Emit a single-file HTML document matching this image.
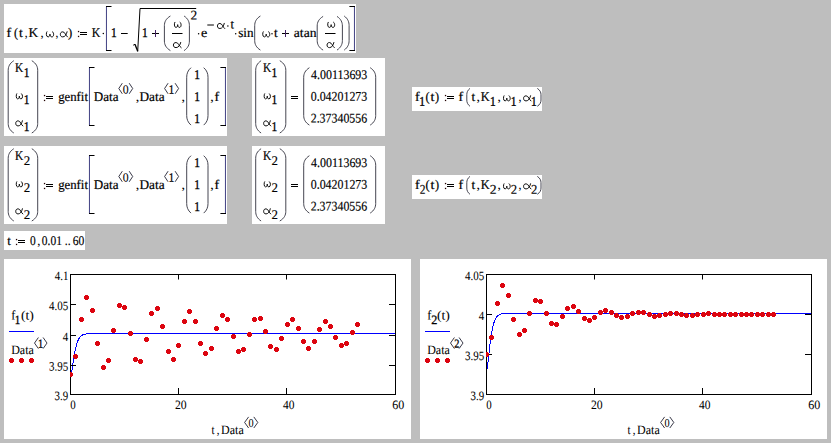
<!DOCTYPE html>
<html><head><meta charset="utf-8"><title>Mathcad</title>
<style>
html,body{margin:0;padding:0;background:#bebebe;}
body{width:831px;height:443px;overflow:hidden;}
svg{display:block;}
text{font-family:"Liberation Serif",serif;fill:#000;white-space:pre;stroke:#000;stroke-width:0.2px;}
text.c{stroke-width:0.05px;}
text.cd{stroke-width:0.3px;}
text.d{stroke-width:0.34px;}
text.d2{stroke-width:0.16px;}
</style></head><body>
<svg width="831" height="443" viewBox="0 0 831 443">
<defs><path id="rd" d="M1,0h3v1h1v3h-1v1h-3v-1h-1v-3h1z" fill="#dc0510" shape-rendering="crispEdges"/></defs>
<rect x="0" y="0" width="831" height="443" fill="#bebebe"/>
<rect x="4" y="4" width="352" height="49" fill="#fff"/>
<text transform="matrix(1.060 0.002 0 1 6.43 37.00)" font-size="13.33">f</text>
<text transform="matrix(0.901 0.002 0 1 13.88 37.00)" font-size="13.33">(</text>
<text transform="matrix(1.027 0.002 0 1 19.08 37.00)" font-size="13.33">t</text>
<text transform="matrix(0.860 0.002 0 1 24.70 37.00)" font-size="13.33" style="stroke-width:0.05px">,</text>
<text transform="matrix(1.009 0.002 0 1 28.42 37.00)" font-size="13.33">K</text>
<text transform="matrix(0.950 0.002 0 1 40.42 37.00)" font-size="13.33" style="stroke-width:0.05px">,</text>
<path d="M1.1,-5.7 C0.4,-5.0 0.3,-0.55 2.2,-0.55 C3.4,-0.55 3.9,-1.6 4,-3.3 C4.1,-1.6 4.6,-0.55 5.8,-0.55 C7.7,-0.55 8.0,-4.6 6.4,-5.7" transform="translate(45.60,37.45) scale(1.087,1.000)" fill="none" stroke="#000" stroke-width="0.95" stroke-linecap="round" vector-effect="non-scaling-stroke"/>
<text transform="matrix(0.860 0.002 0 1 55.45 37.00)" font-size="13.33" style="stroke-width:0.05px">,</text>
<path d="M7.3,-5.7 C6.7,-3 5.2,-0.55 3,-0.55 C1.3,-0.55 0.55,-1.6 0.55,-3.1 C0.55,-4.6 1.4,-5.6 3,-5.6 C5.3,-5.6 5.9,-1.6 7.7,-0.45" transform="translate(59.80,37.45) scale(1.000,1.000)" fill="none" stroke="#000" stroke-width="0.95" stroke-linecap="round" vector-effect="non-scaling-stroke"/>
<text transform="matrix(0.960 0.002 0 1 68.09 37.00)" font-size="13.33">)</text>
<rect x="77.9" y="30.9" width="1.3" height="1.3" fill="#200"/>
<rect x="77.9" y="35.8" width="1.3" height="1.3" fill="#200"/>
<rect x="80" y="32" width="7" height="1" fill="#000"/>
<rect x="80" y="34" width="7" height="1" fill="#000"/>
<text transform="matrix(0.899 0.002 0 1 91.86 37.00)" font-size="13.33">K</text>
<circle cx="103.30" cy="33.50" r="0.75" fill="#000"/>
<path d="M106.45,6.5 V50.5" fill="none" stroke="#404082" stroke-width="1" />
<rect x="106" y="6" width="5.5" height="1" fill="#000"/><rect x="106" y="50" width="5.5" height="1" fill="#000"/>
<text transform="matrix(0.860 0.002 0 1 111.03 37.00)" font-size="13.33" class="d">1</text>
<path d="M121,33.5 H127.7" fill="none" stroke="#000" stroke-width="1" />
<path d="M133.2,45.2 L135,44.3" fill="none" stroke="#000" stroke-width="1" />
<path d="M135,44.3 L137.7,51.3" fill="none" stroke="#000" stroke-width="1.35" />
<path d="M137.7,51.5 L140,8.5 H196.2" fill="none" stroke="#000" stroke-width="1" />
<text transform="matrix(0.860 0.002 0 1 141.88 37.00)" font-size="13.33" class="d">1</text>
<rect x="152" y="33" width="7" height="1" fill="#000"/>
<rect x="155" y="30" width="1" height="7" fill="#426"/>
<path d="M170.40,16.00 C165.90,18.70 164.40,22.00 164.40,25.60 L164.40,41.00 C164.40,44.60 165.90,47.90 170.40,50.60" fill="none" stroke="#3c3c48" stroke-width="0.95" />
<path d="M1.1,-5.7 C0.4,-5.0 0.3,-0.55 2.2,-0.55 C3.4,-0.55 3.9,-1.6 4,-3.3 C4.1,-1.6 4.6,-0.55 5.8,-0.55 C7.7,-0.55 8.0,-4.6 6.4,-5.7" transform="translate(173.70,27.95) scale(1.000,1.000)" fill="none" stroke="#000" stroke-width="0.95" stroke-linecap="round" vector-effect="non-scaling-stroke"/>
<path d="M172,33.5 H182.5" fill="none" stroke="#000" stroke-width="1" />
<path d="M7.3,-5.7 C6.7,-3 5.2,-0.55 3,-0.55 C1.3,-0.55 0.55,-1.6 0.55,-3.1 C0.55,-4.6 1.4,-5.6 3,-5.6 C5.3,-5.6 5.9,-1.6 7.7,-0.45" transform="translate(172.80,48.15) scale(1.087,1.000)" fill="none" stroke="#000" stroke-width="0.95" stroke-linecap="round" vector-effect="non-scaling-stroke"/>
<path d="M184.10,16.00 C188.07,18.70 189.40,22.00 189.40,25.60 L189.40,41.00 C189.40,44.60 188.07,47.90 184.10,50.60" fill="none" stroke="#3c3c48" stroke-width="0.95" />
<text transform="matrix(1.008 0.002 0 1 190.52 19.50)" font-size="13.33" class="d2">2</text>
<circle cx="198.60" cy="33.70" r="0.75" fill="#000"/>
<text transform="matrix(1.060 0.002 0 1 200.93 37.00)" font-size="13.33">e</text>
<path d="M207.3,25 H213.9" fill="none" stroke="#000" stroke-width="1" />
<path d="M7.3,-5.7 C6.7,-3 5.2,-0.55 3,-0.55 C1.3,-0.55 0.55,-1.6 0.55,-3.1 C0.55,-4.6 1.4,-5.6 3,-5.6 C5.3,-5.6 5.9,-1.6 7.7,-0.45" transform="translate(216.90,29.05) scale(1.012,1.000)" fill="none" stroke="#000" stroke-width="0.95" stroke-linecap="round" vector-effect="non-scaling-stroke"/>
<circle cx="227.90" cy="26.00" r="0.75" fill="#000"/>
<text transform="matrix(0.941 0.002 0 1 230.39 28.60)" font-size="13.33">t</text>
<circle cx="235.70" cy="33.70" r="0.75" fill="#000"/>
<text transform="matrix(0.986 0.002 0 1 238.16 37.00)" font-size="13.33">sin</text>
<path d="M260.40,16.00 C256.12,18.70 254.70,22.00 254.70,25.60 L254.70,40.50 C254.70,44.10 256.12,47.40 260.40,50.10" fill="none" stroke="#3c3c48" stroke-width="0.95" />
<path d="M1.1,-5.7 C0.4,-5.0 0.3,-0.55 2.2,-0.55 C3.4,-0.55 3.9,-1.6 4,-3.3 C4.1,-1.6 4.6,-0.55 5.8,-0.55 C7.7,-0.55 8.0,-4.6 6.4,-5.7" transform="translate(262.00,37.45) scale(1.050,1.000)" fill="none" stroke="#000" stroke-width="0.95" stroke-linecap="round" vector-effect="non-scaling-stroke"/>
<circle cx="272.00" cy="33.70" r="0.75" fill="#000"/>
<text transform="matrix(0.998 0.002 0 1 273.98 37.00)" font-size="13.33">t</text>
<rect x="282" y="33" width="7" height="1" fill="#000"/>
<rect x="285" y="30" width="1" height="7" fill="#426"/>
<text transform="matrix(1.021 0.002 0 1 293.82 37.00)" font-size="13.33">atan</text>
<path d="M323.10,16.40 C318.67,19.10 317.20,22.40 317.20,26.00 L317.20,40.50 C317.20,44.10 318.67,47.40 323.10,50.10" fill="none" stroke="#3c3c48" stroke-width="0.95" />
<path d="M1.1,-5.7 C0.4,-5.0 0.3,-0.55 2.2,-0.55 C3.4,-0.55 3.9,-1.6 4,-3.3 C4.1,-1.6 4.6,-0.55 5.8,-0.55 C7.7,-0.55 8.0,-4.6 6.4,-5.7" transform="translate(327.00,27.95) scale(1.038,1.000)" fill="none" stroke="#000" stroke-width="0.95" stroke-linecap="round" vector-effect="non-scaling-stroke"/>
<path d="M325,33.5 H335.5" fill="none" stroke="#000" stroke-width="1" />
<path d="M7.3,-5.7 C6.7,-3 5.2,-0.55 3,-0.55 C1.3,-0.55 0.55,-1.6 0.55,-3.1 C0.55,-4.6 1.4,-5.6 3,-5.6 C5.3,-5.6 5.9,-1.6 7.7,-0.45" transform="translate(326.50,48.15) scale(1.013,1.000)" fill="none" stroke="#000" stroke-width="0.95" stroke-linecap="round" vector-effect="non-scaling-stroke"/>
<path d="M337.00,16.40 C341.05,19.10 342.40,22.40 342.40,26.00 L342.40,40.50 C342.40,44.10 341.05,47.40 337.00,50.10" fill="none" stroke="#3c3c48" stroke-width="0.95" />
<path d="M344.20,16.00 C347.88,18.70 349.10,22.00 349.10,25.60 L349.10,40.50 C349.10,44.10 347.88,47.40 344.20,50.10" fill="none" stroke="#3c3c48" stroke-width="0.95" />
<path d="M354.45,6.5 V50.5" fill="none" stroke="#404082" stroke-width="1" />
<rect x="349.4" y="6" width="5.6" height="1" fill="#000"/><rect x="349.4" y="50" width="5.6" height="1" fill="#000"/>
<rect x="4" y="58" width="223" height="78" fill="#fff"/>
<path d="M13.80,60.70 C9.60,63.40 8.20,66.70 8.20,70.30 L8.20,123.40 C8.20,127.00 9.60,130.30 13.80,133.00" fill="none" stroke="#3c3c48" stroke-width="0.95" />
<text transform="matrix(0.860 0.002 0 1 15.06 72.00)" font-size="13.33">K</text>
<text transform="matrix(0.860 0.002 0 1 23.68 77.00)" font-size="13.33" class="d">1</text>
<path d="M1.1,-5.7 C0.4,-5.0 0.3,-0.55 2.2,-0.55 C3.4,-0.55 3.9,-1.6 4,-3.3 C4.1,-1.6 4.6,-0.55 5.8,-0.55 C7.7,-0.55 8.0,-4.6 6.4,-5.7" transform="translate(15.60,99.45) scale(0.938,1.000)" fill="none" stroke="#000" stroke-width="0.95" stroke-linecap="round" vector-effect="non-scaling-stroke"/>
<text transform="matrix(0.860 0.002 0 1 23.68 104.00)" font-size="13.33" class="d">1</text>
<path d="M7.3,-5.7 C6.7,-3 5.2,-0.55 3,-0.55 C1.3,-0.55 0.55,-1.6 0.55,-3.1 C0.55,-4.6 1.4,-5.6 3,-5.6 C5.3,-5.6 5.9,-1.6 7.7,-0.45" transform="translate(15.20,126.45) scale(0.988,1.000)" fill="none" stroke="#000" stroke-width="0.95" stroke-linecap="round" vector-effect="non-scaling-stroke"/>
<text transform="matrix(0.860 0.002 0 1 23.68 131.00)" font-size="13.33" class="d">1</text>
<path d="M31.80,60.70 C36.23,63.40 37.70,66.70 37.70,70.30 L37.70,123.40 C37.70,127.00 36.23,130.30 31.80,133.00" fill="none" stroke="#3c3c48" stroke-width="0.95" />
<rect x="43.9" y="94.9" width="1.3" height="1.3" fill="#200"/>
<rect x="43.9" y="99.8" width="1.3" height="1.3" fill="#200"/>
<rect x="46" y="96" width="7" height="1" fill="#000"/>
<rect x="46" y="98" width="7" height="1" fill="#000"/>
<text transform="matrix(0.959 0.002 0 1 58.16 101.00)" font-size="13.33">genfit</text>
<path d="M89.45,67.5 V125.5" fill="none" stroke="#404082" stroke-width="1" />
<rect x="89" y="67" width="5.5" height="1" fill="#000"/><rect x="89" y="125" width="5.5" height="1" fill="#000"/>
<text transform="matrix(0.983 0.002 0 1 93.73 101.00)" font-size="13.33">Data</text>
<path d="M122.30,83.20 L118.80,88.50 L122.30,93.80" fill="none" stroke="#223" stroke-width="0.9" />
<path d="M129.20,83.20 L132.70,88.50 L129.20,93.80" fill="none" stroke="#223" stroke-width="0.9" />
<text transform="matrix(0.951 0.002 0 1 122.80 93.40)" font-size="12.4" class="c">0</text>
<text transform="matrix(1.060 0.002 0 1 135.85 101.00)" font-size="13.33" style="stroke-width:0.05px">,</text>
<text transform="matrix(0.999 0.002 0 1 139.43 101.00)" font-size="13.33">Data</text>
<path d="M168.10,83.20 L164.60,88.50 L168.10,93.80" fill="none" stroke="#223" stroke-width="0.9" />
<path d="M175.10,83.20 L178.60,88.50 L175.10,93.80" fill="none" stroke="#223" stroke-width="0.9" />
<text transform="matrix(0.860 0.002 0 1 168.79 93.40)" font-size="12.4" class="cd">1</text>
<text transform="matrix(1.060 0.002 0 1 181.50 101.00)" font-size="13.33" style="stroke-width:0.05px">,</text>
<path d="M191.00,67.70 C187.78,70.40 186.70,73.70 186.70,77.30 L186.70,115.50 C186.70,119.10 187.78,122.40 191.00,125.10" fill="none" stroke="#3c3c48" stroke-width="0.95" />
<text transform="matrix(0.860 0.002 0 1 194.18 79.00)" font-size="13.33" class="d">1</text>
<text transform="matrix(0.860 0.002 0 1 194.18 101.00)" font-size="13.33" class="d">1</text>
<text transform="matrix(0.860 0.002 0 1 194.18 123.00)" font-size="13.33" class="d">1</text>
<path d="M203.70,67.70 C206.93,70.40 208.00,73.70 208.00,77.30 L208.00,115.50 C208.00,119.10 206.93,122.40 203.70,125.10" fill="none" stroke="#3c3c48" stroke-width="0.95" />
<text transform="matrix(1.060 0.002 0 1 210.30 101.00)" font-size="13.33" style="stroke-width:0.05px">,</text>
<text transform="matrix(1.060 0.002 0 1 214.43 101.00)" font-size="13.33">f</text>
<path d="M225.45,67.5 V125.5" fill="none" stroke="#404082" stroke-width="1" />
<rect x="220.4" y="67" width="5.6" height="1" fill="#000"/><rect x="220.4" y="125" width="5.6" height="1" fill="#000"/>
<rect x="252" y="58" width="133" height="78" fill="#fff"/>
<path d="M261.10,60.70 C257.05,63.40 255.70,66.70 255.70,70.30 L255.70,123.40 C255.70,127.00 257.05,130.30 261.10,133.00" fill="none" stroke="#3c3c48" stroke-width="0.95" />
<text transform="matrix(0.860 0.002 0 1 262.96 72.00)" font-size="13.33">K</text>
<text transform="matrix(0.860 0.002 0 1 271.58 77.00)" font-size="13.33" class="d">1</text>
<path d="M1.1,-5.7 C0.4,-5.0 0.3,-0.55 2.2,-0.55 C3.4,-0.55 3.9,-1.6 4,-3.3 C4.1,-1.6 4.6,-0.55 5.8,-0.55 C7.7,-0.55 8.0,-4.6 6.4,-5.7" transform="translate(263.50,99.45) scale(0.938,1.000)" fill="none" stroke="#000" stroke-width="0.95" stroke-linecap="round" vector-effect="non-scaling-stroke"/>
<text transform="matrix(0.860 0.002 0 1 271.58 104.00)" font-size="13.33" class="d">1</text>
<path d="M7.3,-5.7 C6.7,-3 5.2,-0.55 3,-0.55 C1.3,-0.55 0.55,-1.6 0.55,-3.1 C0.55,-4.6 1.4,-5.6 3,-5.6 C5.3,-5.6 5.9,-1.6 7.7,-0.45" transform="translate(263.10,126.45) scale(0.987,1.000)" fill="none" stroke="#000" stroke-width="0.95" stroke-linecap="round" vector-effect="non-scaling-stroke"/>
<text transform="matrix(0.860 0.002 0 1 271.58 131.00)" font-size="13.33" class="d">1</text>
<path d="M279.80,60.70 C284.30,63.40 285.80,66.70 285.80,70.30 L285.80,123.40 C285.80,127.00 284.30,130.30 279.80,133.00" fill="none" stroke="#3c3c48" stroke-width="0.95" />
<rect x="291" y="96" width="7" height="1" fill="#000"/>
<rect x="291" y="98" width="7" height="1" fill="#000"/>
<path d="M309.40,67.70 C305.12,70.40 303.70,73.70 303.70,77.30 L303.70,115.50 C303.70,119.10 305.12,122.40 309.40,125.10" fill="none" stroke="#3c3c48" stroke-width="0.95" />
<text transform="matrix(0.898 0.002 0 1 310.97 79.00)" font-size="13.33" class="d2">4.00113693</text>
<text transform="matrix(0.894 0.002 0 1 310.75 100.70)" font-size="13.33" class="d2">0.04201273</text>
<text transform="matrix(0.893 0.002 0 1 310.69 122.40)" font-size="13.33" class="d2">2.37340556</text>
<path d="M370.20,67.70 C374.33,70.40 375.70,73.70 375.70,77.30 L375.70,115.50 C375.70,119.10 374.33,122.40 370.20,125.10" fill="none" stroke="#3c3c48" stroke-width="0.95" />
<rect x="412" y="87" width="130" height="24" fill="#fff"/>
<text transform="matrix(1.060 0.002 0 1 414.88 101.00)" font-size="13.33">f</text>
<text transform="matrix(0.860 0.002 0 1 419.28 105.80)" font-size="13.33" class="d">1</text>
<text transform="matrix(0.930 0.002 0 1 425.57 101.00)" font-size="13.33">(</text>
<text transform="matrix(1.060 0.002 0 1 430.46 101.00)" font-size="13.33">t</text>
<text transform="matrix(0.930 0.002 0 1 435.10 101.00)" font-size="13.33">)</text>
<rect x="444.9" y="94.9" width="1.3" height="1.3" fill="#200"/>
<rect x="444.9" y="99.8" width="1.3" height="1.3" fill="#200"/>
<rect x="447" y="96" width="7" height="1" fill="#000"/>
<rect x="447" y="98" width="7" height="1" fill="#000"/>
<text transform="matrix(1.060 0.002 0 1 458.58 101.00)" font-size="13.33">f</text>
<path d="M470.00,88.40 C467.60,90.17 466.80,92.34 466.80,94.70 L466.80,100.00 C466.80,102.36 467.60,104.53 470.00,106.30" fill="none" stroke="#3c3c48" stroke-width="0.95" />
<text transform="matrix(0.998 0.002 0 1 471.58 101.00)" font-size="13.33">t</text>
<text transform="matrix(1.050 0.002 0 1 476.47 101.00)" font-size="13.33" style="stroke-width:0.05px">,</text>
<text transform="matrix(0.932 0.002 0 1 480.75 101.00)" font-size="13.33">K</text>
<text transform="matrix(0.860 0.002 0 1 489.98 105.80)" font-size="13.33" class="d">1</text>
<text transform="matrix(1.000 0.002 0 1 497.49 101.00)" font-size="13.33" style="stroke-width:0.05px">,</text>
<path d="M1.1,-5.7 C0.4,-5.0 0.3,-0.55 2.2,-0.55 C3.4,-0.55 3.9,-1.6 4,-3.3 C4.1,-1.6 4.6,-0.55 5.8,-0.55 C7.7,-0.55 8.0,-4.6 6.4,-5.7" transform="translate(502.80,101.45) scale(1.000,1.000)" fill="none" stroke="#000" stroke-width="0.95" stroke-linecap="round" vector-effect="non-scaling-stroke"/>
<text transform="matrix(0.860 0.002 0 1 510.78 105.80)" font-size="13.33" class="d">1</text>
<text transform="matrix(0.900 0.002 0 1 518.44 101.00)" font-size="13.33" style="stroke-width:0.05px">,</text>
<path d="M7.3,-5.7 C6.7,-3 5.2,-0.55 3,-0.55 C1.3,-0.55 0.55,-1.6 0.55,-3.1 C0.55,-4.6 1.4,-5.6 3,-5.6 C5.3,-5.6 5.9,-1.6 7.7,-0.45" transform="translate(523.00,101.45) scale(1.037,1.000)" fill="none" stroke="#000" stroke-width="0.95" stroke-linecap="round" vector-effect="non-scaling-stroke"/>
<text transform="matrix(0.860 0.002 0 1 530.98 105.80)" font-size="13.33" class="d">1</text>
<path d="M537.30,88.40 C540.08,90.17 541.00,92.34 541.00,94.70 L541.00,100.00 C541.00,102.36 540.08,104.53 537.30,106.30" fill="none" stroke="#3c3c48" stroke-width="0.95" />
<rect x="4" y="146" width="223" height="78" fill="#fff"/>
<path d="M13.80,148.70 C9.60,151.40 8.20,154.70 8.20,158.30 L8.20,211.40 C8.20,215.00 9.60,218.30 13.80,221.00" fill="none" stroke="#3c3c48" stroke-width="0.95" />
<text transform="matrix(0.860 0.002 0 1 15.06 160.00)" font-size="13.33">K</text>
<text transform="matrix(0.970 0.002 0 1 23.64 165.00)" font-size="13.33" class="d2">2</text>
<path d="M1.1,-5.7 C0.4,-5.0 0.3,-0.55 2.2,-0.55 C3.4,-0.55 3.9,-1.6 4,-3.3 C4.1,-1.6 4.6,-0.55 5.8,-0.55 C7.7,-0.55 8.0,-4.6 6.4,-5.7" transform="translate(15.60,187.45) scale(0.938,1.000)" fill="none" stroke="#000" stroke-width="0.95" stroke-linecap="round" vector-effect="non-scaling-stroke"/>
<text transform="matrix(0.970 0.002 0 1 23.64 192.00)" font-size="13.33" class="d2">2</text>
<path d="M7.3,-5.7 C6.7,-3 5.2,-0.55 3,-0.55 C1.3,-0.55 0.55,-1.6 0.55,-3.1 C0.55,-4.6 1.4,-5.6 3,-5.6 C5.3,-5.6 5.9,-1.6 7.7,-0.45" transform="translate(15.20,214.45) scale(0.988,1.000)" fill="none" stroke="#000" stroke-width="0.95" stroke-linecap="round" vector-effect="non-scaling-stroke"/>
<text transform="matrix(0.970 0.002 0 1 23.64 219.00)" font-size="13.33" class="d2">2</text>
<path d="M31.80,148.70 C36.23,151.40 37.70,154.70 37.70,158.30 L37.70,211.40 C37.70,215.00 36.23,218.30 31.80,221.00" fill="none" stroke="#3c3c48" stroke-width="0.95" />
<rect x="43.9" y="182.9" width="1.3" height="1.3" fill="#200"/>
<rect x="43.9" y="187.8" width="1.3" height="1.3" fill="#200"/>
<rect x="46" y="184" width="7" height="1" fill="#000"/>
<rect x="46" y="186" width="7" height="1" fill="#000"/>
<text transform="matrix(0.959 0.002 0 1 58.16 189.00)" font-size="13.33">genfit</text>
<path d="M89.45,155.5 V213.5" fill="none" stroke="#404082" stroke-width="1" />
<rect x="89" y="155" width="5.5" height="1" fill="#000"/><rect x="89" y="213" width="5.5" height="1" fill="#000"/>
<text transform="matrix(0.983 0.002 0 1 93.73 189.00)" font-size="13.33">Data</text>
<path d="M122.30,171.20 L118.80,176.50 L122.30,181.80" fill="none" stroke="#223" stroke-width="0.9" />
<path d="M129.20,171.20 L132.70,176.50 L129.20,181.80" fill="none" stroke="#223" stroke-width="0.9" />
<text transform="matrix(0.951 0.002 0 1 122.80 181.40)" font-size="12.4" class="c">0</text>
<text transform="matrix(1.060 0.002 0 1 135.85 189.00)" font-size="13.33" style="stroke-width:0.05px">,</text>
<text transform="matrix(0.999 0.002 0 1 139.43 189.00)" font-size="13.33">Data</text>
<path d="M168.10,171.20 L164.60,176.50 L168.10,181.80" fill="none" stroke="#223" stroke-width="0.9" />
<path d="M175.10,171.20 L178.60,176.50 L175.10,181.80" fill="none" stroke="#223" stroke-width="0.9" />
<text transform="matrix(0.860 0.002 0 1 168.79 181.40)" font-size="12.4" class="cd">1</text>
<text transform="matrix(1.060 0.002 0 1 181.50 189.00)" font-size="13.33" style="stroke-width:0.05px">,</text>
<path d="M191.00,155.70 C187.78,158.40 186.70,161.70 186.70,165.30 L186.70,203.50 C186.70,207.10 187.78,210.40 191.00,213.10" fill="none" stroke="#3c3c48" stroke-width="0.95" />
<text transform="matrix(0.860 0.002 0 1 194.18 167.00)" font-size="13.33" class="d">1</text>
<text transform="matrix(0.860 0.002 0 1 194.18 189.00)" font-size="13.33" class="d">1</text>
<text transform="matrix(0.860 0.002 0 1 194.18 211.00)" font-size="13.33" class="d">1</text>
<path d="M203.70,155.70 C206.93,158.40 208.00,161.70 208.00,165.30 L208.00,203.50 C208.00,207.10 206.93,210.40 203.70,213.10" fill="none" stroke="#3c3c48" stroke-width="0.95" />
<text transform="matrix(1.060 0.002 0 1 210.30 189.00)" font-size="13.33" style="stroke-width:0.05px">,</text>
<text transform="matrix(1.060 0.002 0 1 214.43 189.00)" font-size="13.33">f</text>
<path d="M225.45,155.5 V213.5" fill="none" stroke="#404082" stroke-width="1" />
<rect x="220.4" y="155" width="5.6" height="1" fill="#000"/><rect x="220.4" y="213" width="5.6" height="1" fill="#000"/>
<rect x="252" y="146" width="133" height="78" fill="#fff"/>
<path d="M261.10,148.70 C257.05,151.40 255.70,154.70 255.70,158.30 L255.70,211.40 C255.70,215.00 257.05,218.30 261.10,221.00" fill="none" stroke="#3c3c48" stroke-width="0.95" />
<text transform="matrix(0.860 0.002 0 1 262.96 160.00)" font-size="13.33">K</text>
<text transform="matrix(0.970 0.002 0 1 271.54 165.00)" font-size="13.33" class="d2">2</text>
<path d="M1.1,-5.7 C0.4,-5.0 0.3,-0.55 2.2,-0.55 C3.4,-0.55 3.9,-1.6 4,-3.3 C4.1,-1.6 4.6,-0.55 5.8,-0.55 C7.7,-0.55 8.0,-4.6 6.4,-5.7" transform="translate(263.50,187.45) scale(0.938,1.000)" fill="none" stroke="#000" stroke-width="0.95" stroke-linecap="round" vector-effect="non-scaling-stroke"/>
<text transform="matrix(0.970 0.002 0 1 271.54 192.00)" font-size="13.33" class="d2">2</text>
<path d="M7.3,-5.7 C6.7,-3 5.2,-0.55 3,-0.55 C1.3,-0.55 0.55,-1.6 0.55,-3.1 C0.55,-4.6 1.4,-5.6 3,-5.6 C5.3,-5.6 5.9,-1.6 7.7,-0.45" transform="translate(263.10,214.45) scale(0.987,1.000)" fill="none" stroke="#000" stroke-width="0.95" stroke-linecap="round" vector-effect="non-scaling-stroke"/>
<text transform="matrix(0.970 0.002 0 1 271.54 219.00)" font-size="13.33" class="d2">2</text>
<path d="M279.80,148.70 C284.30,151.40 285.80,154.70 285.80,158.30 L285.80,211.40 C285.80,215.00 284.30,218.30 279.80,221.00" fill="none" stroke="#3c3c48" stroke-width="0.95" />
<rect x="291" y="184" width="7" height="1" fill="#000"/>
<rect x="291" y="186" width="7" height="1" fill="#000"/>
<path d="M309.40,155.70 C305.12,158.40 303.70,161.70 303.70,165.30 L303.70,203.50 C303.70,207.10 305.12,210.40 309.40,213.10" fill="none" stroke="#3c3c48" stroke-width="0.95" />
<text transform="matrix(0.898 0.002 0 1 310.97 167.00)" font-size="13.33" class="d2">4.00113693</text>
<text transform="matrix(0.894 0.002 0 1 310.75 188.70)" font-size="13.33" class="d2">0.04201273</text>
<text transform="matrix(0.893 0.002 0 1 310.69 210.40)" font-size="13.33" class="d2">2.37340556</text>
<path d="M370.20,155.70 C374.33,158.40 375.70,161.70 375.70,165.30 L375.70,203.50 C375.70,207.10 374.33,210.40 370.20,213.10" fill="none" stroke="#3c3c48" stroke-width="0.95" />
<rect x="412" y="175" width="130" height="24" fill="#fff"/>
<text transform="matrix(1.060 0.002 0 1 414.88 189.00)" font-size="13.33">f</text>
<text transform="matrix(0.860 0.002 0 1 419.65 193.80)" font-size="13.33" class="d2">2</text>
<text transform="matrix(0.930 0.002 0 1 425.57 189.00)" font-size="13.33">(</text>
<text transform="matrix(1.060 0.002 0 1 430.46 189.00)" font-size="13.33">t</text>
<text transform="matrix(0.930 0.002 0 1 435.10 189.00)" font-size="13.33">)</text>
<rect x="444.9" y="182.9" width="1.3" height="1.3" fill="#200"/>
<rect x="444.9" y="187.8" width="1.3" height="1.3" fill="#200"/>
<rect x="447" y="184" width="7" height="1" fill="#000"/>
<rect x="447" y="186" width="7" height="1" fill="#000"/>
<text transform="matrix(1.060 0.002 0 1 458.58 189.00)" font-size="13.33">f</text>
<path d="M470.00,176.40 C467.60,178.17 466.80,180.34 466.80,182.70 L466.80,188.00 C466.80,190.36 467.60,192.53 470.00,194.30" fill="none" stroke="#3c3c48" stroke-width="0.95" />
<text transform="matrix(0.998 0.002 0 1 471.58 189.00)" font-size="13.33">t</text>
<text transform="matrix(1.050 0.002 0 1 476.47 189.00)" font-size="13.33" style="stroke-width:0.05px">,</text>
<text transform="matrix(0.932 0.002 0 1 480.75 189.00)" font-size="13.33">K</text>
<text transform="matrix(1.026 0.002 0 1 489.81 193.80)" font-size="13.33" class="d2">2</text>
<text transform="matrix(1.000 0.002 0 1 497.49 189.00)" font-size="13.33" style="stroke-width:0.05px">,</text>
<path d="M1.1,-5.7 C0.4,-5.0 0.3,-0.55 2.2,-0.55 C3.4,-0.55 3.9,-1.6 4,-3.3 C4.1,-1.6 4.6,-0.55 5.8,-0.55 C7.7,-0.55 8.0,-4.6 6.4,-5.7" transform="translate(502.80,189.45) scale(1.000,1.000)" fill="none" stroke="#000" stroke-width="0.95" stroke-linecap="round" vector-effect="non-scaling-stroke"/>
<text transform="matrix(0.952 0.002 0 1 510.85 193.80)" font-size="13.33" class="d2">2</text>
<text transform="matrix(0.900 0.002 0 1 518.44 189.00)" font-size="13.33" style="stroke-width:0.05px">,</text>
<path d="M7.3,-5.7 C6.7,-3 5.2,-0.55 3,-0.55 C1.3,-0.55 0.55,-1.6 0.55,-3.1 C0.55,-4.6 1.4,-5.6 3,-5.6 C5.3,-5.6 5.9,-1.6 7.7,-0.45" transform="translate(523.00,189.45) scale(1.037,1.000)" fill="none" stroke="#000" stroke-width="0.95" stroke-linecap="round" vector-effect="non-scaling-stroke"/>
<text transform="matrix(0.952 0.002 0 1 531.05 193.80)" font-size="13.33" class="d2">2</text>
<path d="M537.30,176.40 C540.08,178.17 541.00,180.34 541.00,182.70 L541.00,188.00 C541.00,190.36 540.08,192.53 537.30,194.30" fill="none" stroke="#3c3c48" stroke-width="0.95" />
<rect x="4" y="231" width="81" height="19" fill="#fff"/>
<text transform="matrix(0.970 0.002 0 1 7.28 245.00)" font-size="13.33">t</text>
<rect x="15.9" y="238.9" width="1.3" height="1.3" fill="#200"/>
<rect x="15.9" y="243.8" width="1.3" height="1.3" fill="#200"/>
<rect x="18" y="240" width="7" height="1" fill="#000"/>
<rect x="18" y="242" width="7" height="1" fill="#000"/>
<text transform="matrix(0.860 0.002 0 1 30.03 245.00)" font-size="13.33" class="d2">0</text>
<text transform="matrix(0.950 0.002 0 1 37.32 245.00)" font-size="13.33" style="stroke-width:0.05px">,</text>
<text transform="matrix(0.860 0.002 0 1 41.85 245.00)" font-size="13.33" class="d2">0.01</text>
<text transform="matrix(0.872 0.002 0 1 64.74 245.00)" font-size="13.33" style="stroke-width:0.05px" class="d2">..</text>
<text transform="matrix(0.873 0.002 0 1 72.81 245.00)" font-size="13.33" class="d2">60</text>
<rect x="4" y="259" width="407" height="180" fill="#fff"/>
<polyline fill="none" stroke="#0000ff" stroke-width="1" shape-rendering="crispEdges" points="70.50,376.11 70.64,376.04 70.77,375.84 70.91,375.51 71.04,375.09 71.18,374.57 71.31,373.98 71.45,373.32 71.58,372.60 71.72,371.83 71.85,371.02 71.99,370.18 72.12,369.31 72.26,368.42 72.40,367.51 72.53,366.60 72.67,365.67 72.80,364.75 72.94,363.82 73.07,362.89 73.21,361.98 73.34,361.07 73.48,360.17 73.61,359.28 73.75,358.41 73.89,357.56 74.02,356.71 74.16,355.89 74.29,355.09 74.43,354.30 74.56,353.53 74.70,352.79 74.83,352.06 74.97,351.35 75.10,350.67 75.24,350.00 75.38,349.35 75.51,348.73 75.65,348.12 75.78,347.53 75.92,346.97 76.05,346.42 76.19,345.89 76.32,345.38 76.46,344.89 76.59,344.41 76.73,343.95 76.86,343.51 77.00,343.09 77.14,342.68 77.27,342.29 77.41,341.91 77.54,341.55 77.68,341.20 77.81,340.86 77.95,340.54 78.08,340.24 78.22,339.94 78.35,339.66 78.49,339.38 78.62,339.12 78.76,338.87 78.90,338.63 79.03,338.40 79.17,338.19 79.30,337.98 79.44,337.77 79.57,337.58 79.71,337.40 79.84,337.22 79.98,337.05 80.11,336.89 80.25,336.74 80.39,336.59 80.52,336.45 80.66,336.32 80.79,336.19 80.93,336.07 81.06,335.95 81.20,335.84 81.33,335.73 81.47,335.63 81.60,335.54 81.74,335.44 81.88,335.36 82.01,335.27 82.15,335.19 82.28,335.12 82.42,335.04 82.55,334.97 82.69,334.91 82.82,334.84 82.96,334.78 83.09,334.73 83.23,334.67 83.36,334.62 83.50,334.57 83.64,334.52 83.77,334.48 83.91,334.44 84.04,334.40 84.18,334.36 84.31,334.32 84.45,334.29 84.58,334.25 84.72,334.22 84.85,334.19 84.99,334.16 85.12,334.14 85.26,334.11 85.40,334.08 85.53,334.06 85.67,334.04 85.80,334.02 85.94,334.00 86.07,333.98 86.21,333.96 86.34,333.94 86.48,333.93 86.61,333.91 86.75,333.90 86.89,333.88 87.02,333.87 87.16,333.86 87.29,333.84 87.43,333.83 87.56,333.82 87.70,333.81 87.83,333.80 87.97,333.79 88.10,333.78 88.24,333.77 88.38,333.77 88.51,333.76 88.65,333.75 88.78,333.74 88.92,333.74 89.05,333.73 89.19,333.73 89.32,333.72 89.46,333.72 89.59,333.71 89.73,333.71 89.86,333.70 90.00,333.70 90.14,333.69 90.27,333.69 90.41,333.68 90.54,333.68 90.68,333.68 90.81,333.67 90.95,333.67 91.08,333.67 91.22,333.67 91.35,333.66 91.49,333.66 91.62,333.66 91.76,333.66 91.90,333.66 92.03,333.65 92.17,333.65 395.50,333.62"/>
<rect x="70.5" y="274.5" width="325.0" height="120.0" fill="none" stroke="#000" stroke-width="1"/>
<path d="M70.5,304.5 H76.0" fill="none" stroke="#000" stroke-width="1" />
<path d="M389.0,304.5 H395.5" fill="none" stroke="#000" stroke-width="1" />
<path d="M70.5,335.5 H76.0" fill="none" stroke="#000" stroke-width="1" />
<path d="M389.0,335.5 H395.5" fill="none" stroke="#000" stroke-width="1" />
<path d="M70.5,365.5 H76.0" fill="none" stroke="#000" stroke-width="1" />
<path d="M389.0,365.5 H395.5" fill="none" stroke="#000" stroke-width="1" />
<path d="M178.50,274.5 V279.5" fill="none" stroke="#000" stroke-width="1" />
<path d="M178.50,394.5 V388.0" fill="none" stroke="#000" stroke-width="1" />
<path d="M286.50,274.5 V279.5" fill="none" stroke="#000" stroke-width="1" />
<path d="M286.50,394.5 V388.0" fill="none" stroke="#000" stroke-width="1" />
<path d="M70,372H72v1h1v3h-1v1H70z" fill="#dc0510" shape-rendering="crispEdges"/>
<use href="#rd" x="73" y="354"/>
<use href="#rd" x="79" y="317"/>
<use href="#rd" x="84" y="295"/>
<use href="#rd" x="90" y="308"/>
<use href="#rd" x="95" y="341"/>
<use href="#rd" x="101" y="365"/>
<use href="#rd" x="106" y="358"/>
<use href="#rd" x="111" y="328"/>
<use href="#rd" x="117" y="303"/>
<use href="#rd" x="122" y="305"/>
<use href="#rd" x="128" y="331"/>
<use href="#rd" x="133" y="357"/>
<use href="#rd" x="138" y="359"/>
<use href="#rd" x="144" y="337"/>
<use href="#rd" x="149" y="311"/>
<use href="#rd" x="155" y="306"/>
<use href="#rd" x="160" y="324"/>
<use href="#rd" x="166" y="349"/>
<use href="#rd" x="171" y="357"/>
<use href="#rd" x="176" y="343"/>
<use href="#rd" x="182" y="319"/>
<use href="#rd" x="187" y="309"/>
<use href="#rd" x="193" y="319"/>
<use href="#rd" x="198" y="341"/>
<use href="#rd" x="203" y="351"/>
<use href="#rd" x="209" y="346"/>
<use href="#rd" x="214" y="326"/>
<use href="#rd" x="220" y="313"/>
<use href="#rd" x="225" y="317"/>
<use href="#rd" x="231" y="334"/>
<use href="#rd" x="236" y="349"/>
<use href="#rd" x="241" y="347"/>
<use href="#rd" x="247" y="332"/>
<use href="#rd" x="252" y="317"/>
<use href="#rd" x="258" y="316"/>
<use href="#rd" x="263" y="329"/>
<use href="#rd" x="268" y="344"/>
<use href="#rd" x="274" y="347"/>
<use href="#rd" x="279" y="336"/>
<use href="#rd" x="285" y="322"/>
<use href="#rd" x="290" y="317"/>
<use href="#rd" x="296" y="326"/>
<use href="#rd" x="301" y="339"/>
<use href="#rd" x="306" y="346"/>
<use href="#rd" x="312" y="339"/>
<use href="#rd" x="317" y="327"/>
<use href="#rd" x="323" y="319"/>
<use href="#rd" x="328" y="324"/>
<use href="#rd" x="333" y="335"/>
<use href="#rd" x="339" y="343"/>
<use href="#rd" x="344" y="341"/>
<use href="#rd" x="350" y="330"/>
<use href="#rd" x="355" y="322"/>
<text transform="matrix(0.860 0.002 0 1 54.73 280.00)" font-size="12.7" class="c">4.1</text>
<text transform="matrix(0.865 0.002 0 1 48.91 310.00)" font-size="12.7" class="c">4.05</text>
<text transform="matrix(0.860 0.002 0 1 62.80 341.00)" font-size="12.7" class="c">4</text>
<text transform="matrix(0.865 0.002 0 1 48.91 370.60)" font-size="12.7" class="c">3.95</text>
<text transform="matrix(0.860 0.002 0 1 54.52 400.00)" font-size="12.7" class="c">3.9</text>
<text transform="matrix(0.860 0.002 0 1 70.17 409.00)" font-size="12.7" class="c">0</text>
<text transform="matrix(0.925 0.002 0 1 174.89 409.00)" font-size="12.7" class="c">20</text>
<text transform="matrix(0.902 0.002 0 1 282.98 409.00)" font-size="12.7" class="c">40</text>
<text transform="matrix(0.950 0.002 0 1 392.19 409.00)" font-size="12.7" class="c">60</text>
<text transform="matrix(0.860 0.002 0 1 211.52 434.00)" font-size="12.7" class="c">t</text>
<text transform="matrix(0.860 0.002 0 1 216.72 434.00)" font-size="12.7" style="stroke-width:0.05px" class="c">,</text>
<text transform="matrix(0.946 0.002 0 1 221.06 434.00)" font-size="12.7" class="c">Data</text>
<path d="M248.60,416.90 L244.60,422.45 L248.60,428.00" fill="none" stroke="#223" stroke-width="0.9" />
<path d="M253.80,416.90 L257.80,422.45 L253.80,428.00" fill="none" stroke="#223" stroke-width="0.9" />
<text transform="matrix(0.860 0.002 0 1 248.62 427.00)" font-size="12" class="c">0</text>
<text transform="matrix(0.962 0.002 0 1 11.33 319.40)" font-size="13.0" class="c">f</text>
<text transform="matrix(0.860 0.002 0 1 14.72 324.00)" font-size="12.7" class="cd">1</text>
<text transform="matrix(1.060 0.002 0 1 20.90 319.40)" font-size="13.0" class="c">(t)</text>
<path d="M9,331.5 H34" fill="none" stroke="#0000ff" stroke-width="1" />
<text transform="matrix(0.946 0.002 0 1 11.16 354.00)" font-size="12.7" class="c">Data</text>
<path d="M38.40,337.50 L34.50,343.05 L38.40,348.60" fill="none" stroke="#223" stroke-width="0.9" />
<path d="M43.10,337.50 L47.00,343.05 L43.10,348.60" fill="none" stroke="#223" stroke-width="0.9" />
<text transform="matrix(0.860 0.002 0 1 38.03 347.60)" font-size="12" class="cd">1</text>
<use href="#rd" x="9" y="358"/>
<use href="#rd" x="19" y="358"/>
<use href="#rd" x="29" y="358"/>
<rect x="420" y="259" width="407" height="180" fill="#fff"/>
<polyline fill="none" stroke="#0000ff" stroke-width="1" shape-rendering="crispEdges" points="486.50,370.05 486.64,369.96 486.77,369.68 486.91,369.25 487.04,368.69 487.18,368.00 487.31,367.21 487.45,366.33 487.58,365.37 487.72,364.34 487.85,363.27 487.99,362.14 488.12,360.98 488.26,359.80 488.40,358.59 488.53,357.36 488.67,356.13 488.80,354.89 488.94,353.66 489.07,352.43 489.21,351.20 489.34,349.99 489.48,348.79 489.61,347.61 489.75,346.45 489.89,345.31 490.02,344.19 490.16,343.09 490.29,342.02 490.43,340.97 490.56,339.95 490.70,338.95 490.83,337.98 490.97,337.04 491.10,336.12 491.24,335.23 491.38,334.37 491.51,333.54 491.65,332.73 491.78,331.95 491.92,331.19 492.05,330.46 492.19,329.75 492.32,329.07 492.46,328.42 492.59,327.78 492.73,327.17 492.86,326.58 493.00,326.02 493.14,325.47 493.27,324.95 493.41,324.45 493.54,323.96 493.68,323.50 493.81,323.05 493.95,322.62 494.08,322.21 494.22,321.82 494.35,321.44 494.49,321.08 494.62,320.73 494.76,320.40 494.90,320.08 495.03,319.77 495.17,319.48 495.30,319.20 495.44,318.93 495.57,318.68 495.71,318.43 495.84,318.20 495.98,317.97 496.11,317.76 496.25,317.55 496.39,317.36 496.52,317.17 496.66,316.99 496.79,316.82 496.93,316.66 497.06,316.50 497.20,316.35 497.33,316.21 497.47,316.08 497.60,315.95 497.74,315.82 497.88,315.71 498.01,315.60 498.15,315.49 498.28,315.39 498.42,315.29 498.55,315.20 498.69,315.11 498.82,315.03 498.96,314.95 499.09,314.87 499.23,314.80 499.36,314.73 499.50,314.66 499.64,314.60 499.77,314.54 499.91,314.48 500.04,314.43 500.18,314.38 500.31,314.33 500.45,314.28 500.58,314.24 500.72,314.20 500.85,314.15 500.99,314.12 501.12,314.08 501.26,314.05 501.40,314.01 501.53,313.98 501.67,313.95 501.80,313.92 501.94,313.90 502.07,313.87 502.21,313.85 502.34,313.82 502.48,313.80 502.61,313.78 502.75,313.76 502.89,313.74 503.02,313.72 503.16,313.71 503.29,313.69 503.43,313.68 503.56,313.66 503.70,313.65 503.83,313.63 503.97,313.62 504.10,313.61 504.24,313.60 504.38,313.59 504.51,313.58 504.65,313.57 504.78,313.56 504.92,313.55 505.05,313.54 505.19,313.53 505.32,313.53 505.46,313.52 505.59,313.51 505.73,313.51 505.86,313.50 506.00,313.50 506.14,313.49 506.27,313.48 506.41,313.48 506.54,313.48 506.68,313.47 506.81,313.47 506.95,313.46 507.08,313.46 507.22,313.46 507.35,313.45 507.49,313.45 507.62,313.45 507.76,313.44 507.90,313.44 508.03,313.44 508.17,313.43 811.50,313.39"/>
<rect x="486.5" y="274.5" width="325.0" height="120.0" fill="none" stroke="#000" stroke-width="1"/>
<path d="M486.5,314.5 H492.0" fill="none" stroke="#000" stroke-width="1" />
<path d="M805.0,314.5 H811.5" fill="none" stroke="#000" stroke-width="1" />
<path d="M486.5,354.5 H492.0" fill="none" stroke="#000" stroke-width="1" />
<path d="M805.0,354.5 H811.5" fill="none" stroke="#000" stroke-width="1" />
<path d="M594.50,274.5 V279.5" fill="none" stroke="#000" stroke-width="1" />
<path d="M594.50,394.5 V388.0" fill="none" stroke="#000" stroke-width="1" />
<path d="M702.50,274.5 V279.5" fill="none" stroke="#000" stroke-width="1" />
<path d="M702.50,394.5 V388.0" fill="none" stroke="#000" stroke-width="1" />
<path d="M486,352H488v1h1v3h-1v1H486z" fill="#dc0510" shape-rendering="crispEdges"/>
<use href="#rd" x="489" y="335"/>
<use href="#rd" x="495" y="301"/>
<use href="#rd" x="500" y="283"/>
<use href="#rd" x="506" y="293"/>
<use href="#rd" x="511" y="317"/>
<use href="#rd" x="517" y="332"/>
<use href="#rd" x="522" y="328"/>
<use href="#rd" x="527" y="311"/>
<use href="#rd" x="533" y="298"/>
<use href="#rd" x="538" y="299"/>
<use href="#rd" x="544" y="311"/>
<use href="#rd" x="549" y="321"/>
<use href="#rd" x="554" y="322"/>
<use href="#rd" x="560" y="314"/>
<use href="#rd" x="565" y="306"/>
<use href="#rd" x="571" y="304"/>
<use href="#rd" x="576" y="309"/>
<use href="#rd" x="582" y="316"/>
<use href="#rd" x="587" y="318"/>
<use href="#rd" x="592" y="315"/>
<use href="#rd" x="598" y="310"/>
<use href="#rd" x="603" y="308"/>
<use href="#rd" x="609" y="310"/>
<use href="#rd" x="614" y="313"/>
<use href="#rd" x="619" y="315"/>
<use href="#rd" x="625" y="314"/>
<use href="#rd" x="630" y="311"/>
<use href="#rd" x="636" y="310"/>
<use href="#rd" x="641" y="310"/>
<use href="#rd" x="647" y="312"/>
<use href="#rd" x="652" y="314"/>
<use href="#rd" x="657" y="313"/>
<use href="#rd" x="663" y="312"/>
<use href="#rd" x="668" y="311"/>
<use href="#rd" x="674" y="311"/>
<use href="#rd" x="679" y="312"/>
<use href="#rd" x="684" y="313"/>
<use href="#rd" x="690" y="313"/>
<use href="#rd" x="695" y="312"/>
<use href="#rd" x="701" y="312"/>
<use href="#rd" x="706" y="311"/>
<use href="#rd" x="712" y="312"/>
<use href="#rd" x="717" y="312"/>
<use href="#rd" x="722" y="312"/>
<use href="#rd" x="728" y="312"/>
<use href="#rd" x="733" y="312"/>
<use href="#rd" x="739" y="312"/>
<use href="#rd" x="744" y="312"/>
<use href="#rd" x="749" y="312"/>
<use href="#rd" x="755" y="312"/>
<use href="#rd" x="760" y="312"/>
<use href="#rd" x="766" y="312"/>
<use href="#rd" x="771" y="312"/>
<text transform="matrix(0.865 0.002 0 1 464.91 280.00)" font-size="12.7" class="c">4.05</text>
<text transform="matrix(0.860 0.002 0 1 478.80 320.00)" font-size="12.7" class="c">4</text>
<text transform="matrix(0.865 0.002 0 1 464.91 360.00)" font-size="12.7" class="c">3.95</text>
<text transform="matrix(0.860 0.002 0 1 470.52 400.00)" font-size="12.7" class="c">3.9</text>
<text transform="matrix(0.860 0.002 0 1 486.17 409.00)" font-size="12.7" class="c">0</text>
<text transform="matrix(0.925 0.002 0 1 590.89 409.00)" font-size="12.7" class="c">20</text>
<text transform="matrix(0.902 0.002 0 1 698.98 409.00)" font-size="12.7" class="c">40</text>
<text transform="matrix(0.950 0.002 0 1 808.19 409.00)" font-size="12.7" class="c">60</text>
<text transform="matrix(0.860 0.002 0 1 627.52 434.00)" font-size="12.7" class="c">t</text>
<text transform="matrix(0.860 0.002 0 1 632.72 434.00)" font-size="12.7" style="stroke-width:0.05px" class="c">,</text>
<text transform="matrix(0.946 0.002 0 1 637.06 434.00)" font-size="12.7" class="c">Data</text>
<path d="M664.60,416.90 L660.60,422.45 L664.60,428.00" fill="none" stroke="#223" stroke-width="0.9" />
<path d="M669.80,416.90 L673.80,422.45 L669.80,428.00" fill="none" stroke="#223" stroke-width="0.9" />
<text transform="matrix(0.860 0.002 0 1 664.62 427.00)" font-size="12" class="c">0</text>
<text transform="matrix(0.962 0.002 0 1 427.33 319.40)" font-size="13.0" class="c">f</text>
<text transform="matrix(0.960 0.002 0 1 431.28 324.00)" font-size="12.7" class="cd">2</text>
<text transform="matrix(1.060 0.002 0 1 436.90 319.40)" font-size="13.0" class="c">(t)</text>
<path d="M425,331.5 H450" fill="none" stroke="#0000ff" stroke-width="1" />
<text transform="matrix(0.946 0.002 0 1 427.16 354.00)" font-size="12.7" class="c">Data</text>
<path d="M454.40,337.50 L450.50,343.05 L454.40,348.60" fill="none" stroke="#223" stroke-width="0.9" />
<path d="M459.10,337.50 L463.00,343.05 L459.10,348.60" fill="none" stroke="#223" stroke-width="0.9" />
<text transform="matrix(0.860 0.002 0 1 454.23 347.60)" font-size="12" class="cd">2</text>
<use href="#rd" x="425" y="358"/>
<use href="#rd" x="435" y="358"/>
<use href="#rd" x="445" y="358"/>
</svg>
</body></html>
